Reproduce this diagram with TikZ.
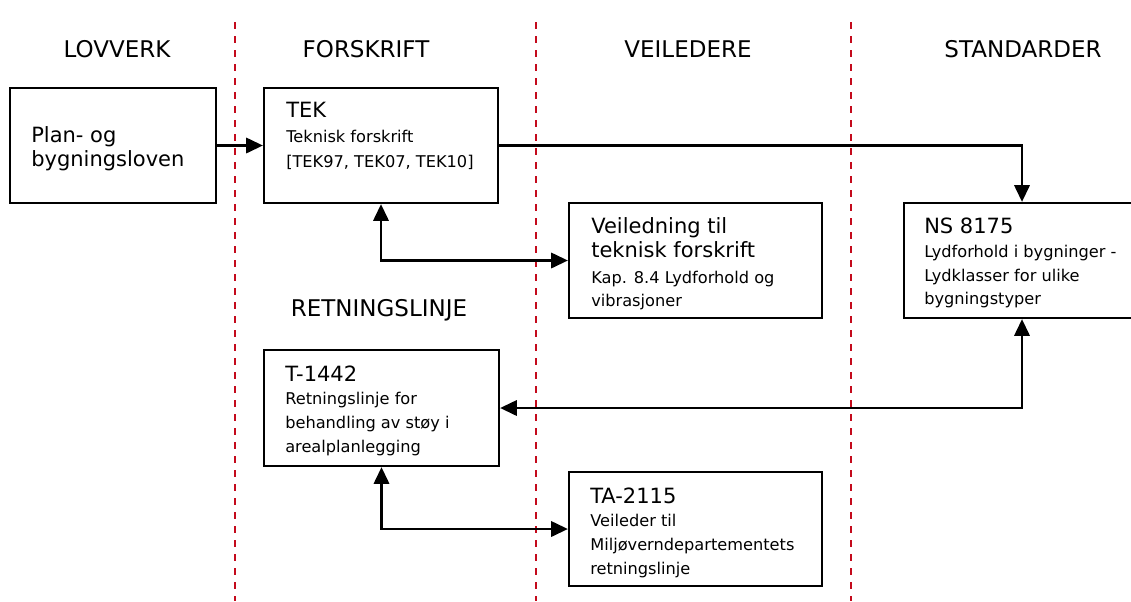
\documentclass[tikz,border=0pt]{standalone}
\usepackage{fontspec}
\setmainfont{DejaVu Sans}
\usetikzlibrary{arrows.meta,fit}
\definecolor{sepred}{RGB}{196,10,28}
\tikzset{
  hdr/.style={font=\fontsize{17.25}{20}\selectfont, anchor=base, inner sep=0pt},
  ttl/.style={font=\fontsize{15.75}{18}\selectfont, anchor=base west, inner sep=0pt},
  sml/.style={font=\fontsize{12.15}{14}\selectfont, anchor=base west, inner sep=0pt},
  box/.style={draw, line width=1.7pt, inner sep=0pt},
  tip/.tip={Triangle[length=12.5pt,width=11.5pt]},
  conn/.style={line width=1.7pt, -tip},
  biconn/.style={line width=1.7pt, tip-tip},
  sepline/.style={draw=sepred, line width=1.6pt, dash pattern=on 5.5pt off 5pt}
}
\begin{document}
\begin{tikzpicture}[x=0.75pt, y=-0.75pt]
\useasboundingbox (0,0) rectangle (1131,601);
\clip (0,0) rectangle (1131,601);
% column separators
\coordinate (s1t) at (235,22);  \coordinate (s1b) at (235,601);
\coordinate (s2t) at (536,22);  \coordinate (s2b) at (536,601);
\coordinate (s3t) at (851,22);  \coordinate (s3b) at (851,601);
\draw[sepline] (s1t) -- (s1b);
\draw[sepline] (s2t) -- (s2b);
\draw[sepline] (s3t) -- (s3b);
% headers
\node[hdr] (hlov) at (117,57) {LOVVERK};
\node[hdr] (hfor) at (366,57) {FORSKRIFT};
\node[hdr] (hvei) at (688,57) {VEILEDERE};
\node[hdr] (hsta) at (1023,57) {STANDARDER};
\node[hdr] (hret) at (379,316) {RETNINGSLINJE};
% boxes
\node[box, fit={(10,88) (216,203)}] (plan) {};
\node[box, fit={(264,88) (498,203)}] (tek) {};
\node[box, fit={(569,203) (822,318)}] (veil) {};
\node[box, fit={(904,203) (1140,318)}] (ns) {};
\node[box, fit={(264,350) (499,466)}] (t1442) {};
\node[box, fit={(569,472) (822,586)}] (ta) {};
% texts
\node[ttl] (plan1) at (31,142) {Plan- og};
\node[ttl] (plan2) at (31,166) {bygningsloven};
\node[ttl] (tek1) at (286,117) {TEK};
\node[sml] (tek2) at (286,142) {Teknisk forskrift};
\node[sml] (tek3) at (286,167) {[TEK97, TEK07, TEK10]};
\node[ttl] (veil1) at (591,233) {Veiledning til};
\node[ttl] (veil2) at (591,257) {teknisk forskrift};
\node[sml] (veil3) at (591,283) {Kap. 8.4 Lydforhold og};
\node[sml] (veil4) at (591,306) {vibrasjoner};
\node[ttl] (ns1) at (924,233) {NS 8175};
\node[sml] (ns2) at (924,257) {Lydforhold i bygninger -};
\node[sml] (ns3) at (924,281) {Lydklasser for ulike};
\node[sml] (ns4) at (924,304) {bygningstyper};
\node[ttl] (t1) at (285,381) {T-1442};
\node[sml] (t2) at (285,404) {Retningslinje for};
\node[sml] (t3) at (285,428) {behandling av støy i};
\node[sml] (t4) at (285,452) {arealplanlegging};
\node[ttl] (ta1) at (590,503) {TA-2115};
\node[sml] (ta2) at (590,526) {Veileder til};
\node[sml] (ta3) at (590,550) {Miljøverndepartementets};
\node[sml] (ta4) at (590,574) {retningslinje};
% connectors
\draw[conn] (plan.east) -- (tek.west);
\draw[conn] (tek.east) -| (ns.north);
\draw[biconn] (tek.south) |- (veil.west);
\draw[biconn] (ns.south) |- (t1442.east);
\draw[biconn] (t1442.south) |- (ta.west);
\end{tikzpicture}
\end{document}
